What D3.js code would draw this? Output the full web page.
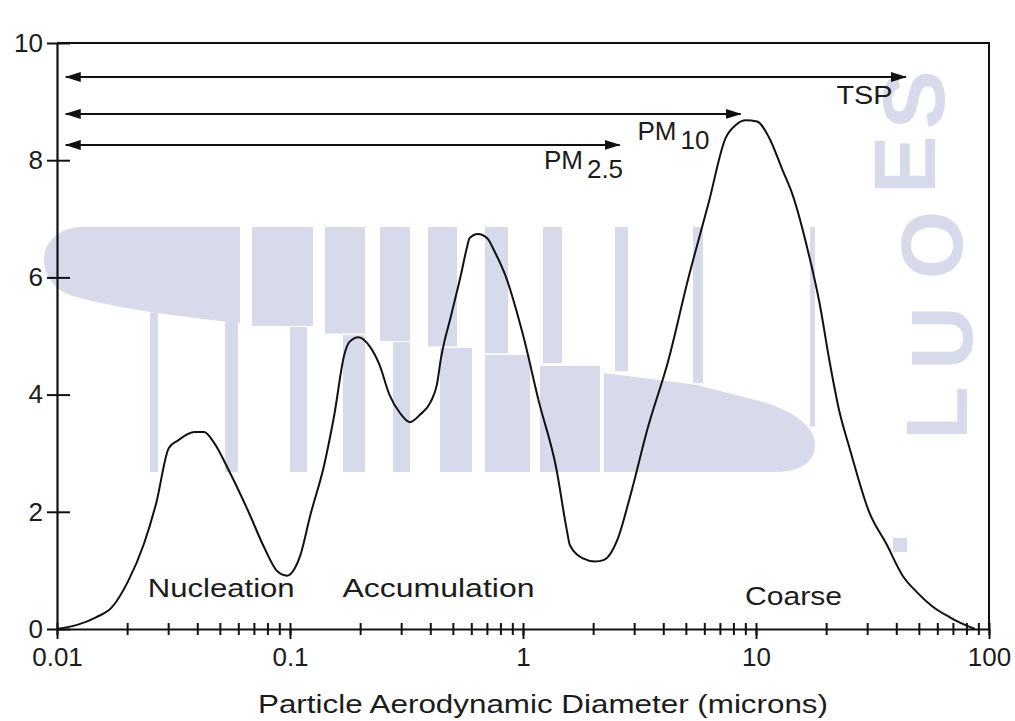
<!DOCTYPE html>
<html>
<head>
<meta charset="utf-8">
<script src="https://cdn.jsdelivr.net/npm/d3@7/dist/d3.min.js"></script>
<style>
	body { margin: 0; background: #fff; }
	svg text { font-family: "Liberation Sans", Arial, Helvetica, sans-serif; fill: #1c1c1c; }
</style>
</head>
<body>
<div id="chart"></div>
<script>
// particle size distribution (diameter in microns)
const diameters = [
	0.01, 0.0122, 0.0147, 0.0171, 0.0201, 0.0236, 0.0267, 0.0302, 0.0331, 0.0389,
	0.0428, 0.047, 0.0552, 0.0667, 0.0775, 0.0885, 0.0972, 0.105, 0.111, 0.122,
	0.140, 0.155, 0.171, 0.180, 0.197, 0.221, 0.242, 0.267, 0.296, 0.327,
	0.362, 0.402, 0.427, 0.445, 0.492, 0.544, 0.573, 0.590, 0.640, 0.702,
	0.760, 0.841, 1.0, 1.17, 1.39, 1.54, 1.59, 1.82, 2.04, 2.23,
	2.54, 2.89, 3.43, 4.19, 5.12, 6.25, 7.41, 8.19, 9.05, 10.1,
	11.4, 13.0, 14.3, 16.9, 18.7, 20.7, 22.8, 25.2, 30.7, 36.3,
	42.6, 49.0, 57.4, 67.9, 75.0, 87.1
];
const concentrations = [
	0.00, 0.07, 0.20, 0.36, 0.80, 1.45, 2.16, 3.09, 3.22, 3.36,
	3.36, 3.19, 2.67, 1.98, 1.39, 0.98, 0.91, 1.04, 1.27, 1.93,
	2.79, 3.66, 4.68, 4.90, 4.98, 4.81, 4.51, 4.00, 3.69, 3.53,
	3.66, 3.88, 4.17, 4.63, 5.36, 6.08, 6.49, 6.67, 6.74, 6.67,
	6.42, 6.03, 5.02, 3.88, 2.74, 1.70, 1.43, 1.20, 1.15, 1.18,
	1.52, 2.28, 3.43, 4.56, 5.98, 7.26, 8.38, 8.60, 8.68, 8.66,
	8.38, 7.83, 7.43, 6.37, 5.58, 4.56, 3.71, 3.09, 1.98, 1.45,
	0.91, 0.63, 0.38, 0.20, 0.11, 0.00
];

const xTickValues = [0.01, 0.1, 1, 10, 100];
const xTickLabels = ["0.01", "0.1", "1", "10", "100"];
const yTickValues = [0, 2, 4, 6, 8, 10];

// size classes shown as arrows
const classNames = ["TSP", "PM", "PM"];
const classSubs = ["", "10", "2.5"];
const classFrom = [0.0109, 0.0109, 0.0109];
const classTo = [44, 8.6, 2.6];
const classLevel = [9.42, 8.79, 8.26];

const modeNames = ["Nucleation", "Accumulation", "Coarse"];
const xTitle = "Particle Aerodynamic Diameter (microns)";
const watermarkLetters = ["S", "E", "O", "U", "L"];

const width = 1015, height = 721;
const x0 = 57, x1 = 989, yBottom = 629, yTop = 43;

const svg = d3.select("#chart")
	.append("svg")
	.attr("width", width)
	.attr("height", height);

const x = d3.scaleLog().domain([0.01, 100]).range([x0, x1]);
const y = d3.scaleLinear().domain([0, 10]).range([yBottom, yTop]);

// faint watermark behind the plot
const wm = svg.append("g").attr("fill", "#d6daeb");
const seam = d3.scaleLinear()
	.domain([45, 57, 150, 240, 313, 365, 410, 457, 508, 562, 628, 703, 763, 815])
	.range([262, 292, 312, 323, 328, 337, 343, 348, 355, 365, 372, 384, 402, 428]);
wm.append("path")
	.attr("d", "M240,227 L80,227 C58,228 44,243 44,259 C44,276 54,289 70,295 C100,305 170,316 240,323 Z");
wm.selectAll("rect.top")
	.data([[252, 313], [325, 365], [380, 410], [428, 457], [485, 508], [543, 562], [615, 628], [693, 703], [810, 815]])
	.enter().append("rect")
	.attr("x", d => d[0]).attr("width", d => d[1] - d[0])
	.attr("y", 227).attr("height", d => seam((d[0] + d[1]) / 2) - 227);
wm.selectAll("rect.bottom")
	.data([[150, 158], [225, 238], [290, 307], [343, 365], [393, 410], [440, 472], [485, 530], [540, 600]])
	.enter().append("rect")
	.attr("x", d => d[0]).attr("width", d => d[1] - d[0])
	.attr("y", d => seam((d[0] + d[1]) / 2)).attr("height", d => 472 - seam((d[0] + d[1]) / 2));
wm.append("path")
	.attr("d", "M604,373 L697,385 L763,402 C790,410 815,425 815,445 C815,462 800,472 775,472 L604,472 Z");
const letterPos = [[912, 100], [903, 165], [930, 245], [940, 338], [935, 413]];
wm.selectAll("text")
	.data(watermarkLetters)
	.enter().append("text")
	.attr("transform", (d, i) => `translate(${letterPos[i][0]},${letterPos[i][1]}) rotate(-90)`)
	.attr("text-anchor", "middle")
	.attr("dy", "0.36em")
	.style("fill", "#d6daeb")
	.style("font-size", "88px")
	.style("font-weight", "bold")
	.text(d => d);
wm.append("rect").attr("x", 893).attr("y", 538).attr("width", 14).attr("height", 14);

// frame: top and right
svg.append("path")
	.attr("d", `M${x0},${yTop}H${x1}V${yBottom}`)
	.attr("fill", "none")
	.attr("stroke", "#111")
	.attr("stroke-width", 2);

// x axis: minor ticks cross the line, decades also hang below
const minorTicks = [];
[0.01, 0.1, 1, 10].forEach(dec => d3.range(1, 10).forEach(k => minorTicks.push(dec * k)));
minorTicks.push(100);

svg.append("g")
	.attr("class", "x-minor")
	.attr("transform", `translate(0,${yBottom - 6})`)
	.call(d3.axisBottom(x).tickValues(minorTicks).tickSize(12).tickFormat(""))
	.call(g => g.select(".domain").remove());

const xAxis = svg.append("g")
	.attr("transform", `translate(0,${yBottom})`)
	.call(d3.axisBottom(x)
		.tickValues(xTickValues)
		.tickSizeInner(10)
		.tickSizeOuter(0)
		.tickPadding(9)
		.tickFormat((d, i) => xTickLabels[i]));

xAxis.selectAll("text").style("font-size", "26px");

// y axis: ticks stick out both sides
svg.append("g")
	.attr("transform", `translate(${x0},0)`)
	.call(d3.axisRight(y).tickValues(yTickValues).tickSize(13).tickFormat(""))
	.call(g => g.select(".domain").remove());

const yAxis = svg.append("g")
	.attr("transform", `translate(${x0},0)`)
	.call(d3.axisLeft(y)
		.tickValues(yTickValues)
		.tickSizeInner(10)
		.tickSizeOuter(0)
		.tickPadding(4));

yAxis.selectAll("text").style("font-size", "26px");

svg.selectAll(".domain").attr("stroke", "#111").attr("stroke-width", 2.2);
svg.selectAll(".tick line").attr("stroke", "#111").attr("stroke-width", 2);

// arrows for TSP / PM10 / PM2.5
const defs = svg.append("defs");
defs.append("marker")
	.attr("id", "head")
	.attr("viewBox", "0 0 16 10")
	.attr("refX", 15)
	.attr("refY", 5)
	.attr("markerWidth", 16)
	.attr("markerHeight", 10)
	.attr("markerUnits", "userSpaceOnUse")
	.attr("orient", "auto-start-reverse")
	.append("path")
	.attr("d", "M0,0 L16,5 L0,10 Z")
	.attr("fill", "#111");

svg.append("g")
	.selectAll("line")
	.data(classNames)
	.enter()
	.append("line")
	.attr("x1", (d, i) => x(classFrom[i]))
	.attr("x2", (d, i) => x(classTo[i]))
	.attr("y1", (d, i) => y(classLevel[i]))
	.attr("y2", (d, i) => y(classLevel[i]))
	.attr("stroke", "#111")
	.attr("stroke-width", 2)
	.attr("marker-start", "url(#head)")
	.attr("marker-end", "url(#head)");

// class labels, placed in data units
const classLabelAt = [
	{ x: 38.5, y: 8.96, anchor: "end", len: 56 },
	{ x: 3.1, y: 8.35, anchor: "start" },
	{ x: 1.23, y: 7.85, anchor: "start" }
];

classNames.forEach((name, i) => {
	const p = classLabelAt[i];
	const t = svg.append("text")
		.attr("x", x(p.x))
		.attr("y", y(p.y))
		.attr("text-anchor", p.anchor)
		.style("font-size", "26px");
	t.append("tspan").text(name);
	if (classSubs[i]) {
		t.append("tspan")
			.attr("dx", 4)
			.attr("dy", 9)
			.style("font-size", "26px")
			.text(classSubs[i]);
	}
	if (p.len) t.attr("textLength", p.len).attr("lengthAdjust", "spacingAndGlyphs");
});

// mode labels
const modeLabelAt = [
	{ x: 0.0245, y: 0.55, len: 147 },
	{ x: 0.168, y: 0.55, len: 192 },
	{ x: 8.97, y: 0.41, len: 97 }
];

svg.append("g")
	.selectAll("text")
	.data(modeNames)
	.enter()
	.append("text")
	.attr("x", (d, i) => x(modeLabelAt[i].x))
	.attr("y", (d, i) => y(modeLabelAt[i].y))
	.attr("textLength", (d, i) => modeLabelAt[i].len)
	.attr("lengthAdjust", "spacingAndGlyphs")
	.style("font-size", "26px")
	.text(d => d);

// the distribution curve
const line = d3.line()
	.x(d => x(d[0]))
	.y(d => y(d[1]))
	.curve(d3.curveMonotoneX);

svg.append("path")
	.datum(d3.zip(diameters, concentrations))
	.attr("fill", "none")
	.attr("stroke", "#111")
	.attr("stroke-width", 2)
	.attr("stroke-linejoin", "round")
	.attr("d", line);

svg.append("text")
	.attr("x", 543)
	.attr("y", 713)
	.attr("text-anchor", "middle")
	.attr("textLength", 570)
	.attr("lengthAdjust", "spacingAndGlyphs")
	.style("font-size", "26px")
	.text(xTitle);
</script>
</body>
</html>
